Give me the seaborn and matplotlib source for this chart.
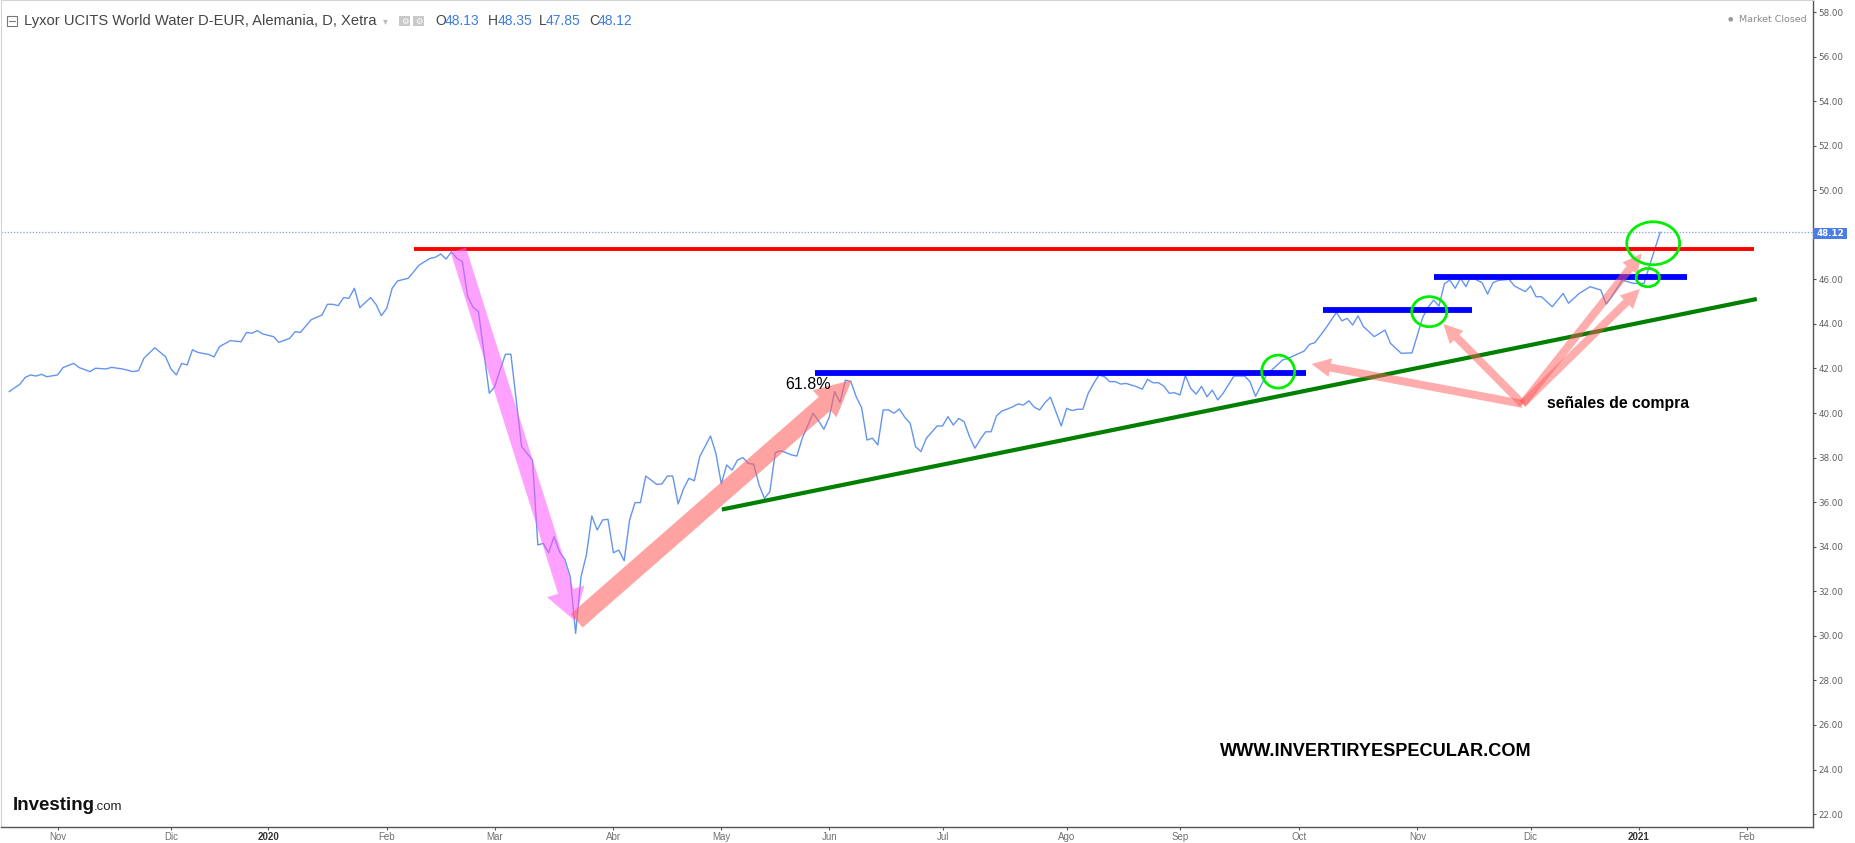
import numpy as np
import pandas as pd
import matplotlib
matplotlib.use("Agg")
import matplotlib.pyplot as plt
from matplotlib.patches import Ellipse, Rectangle, ArrowStyle
from matplotlib.lines import Line2D
import seaborn as sns

# ------------------------------------------------------------------ data
# trading-session number, counted from the first Xetra session of Nov 2019
session = [-9, -7, -6, -5, -4, -3, -2, 0, 1, 3, 4, 6, 7, 9, 10, 12, 14, 15, 16, 18,
           20, 21, 22, 23, 24, 25, 26, 28, 29, 30, 32, 34, 35, 36, 37, 38, 40, 41, 43, 44,
           45, 47, 49, 50, 51, 52, 53, 54, 55, 56, 58, 59, 60, 61, 62, 63, 65, 67, 69, 70,
           71, 72, 73, 74, 75, 76, 77, 78, 80, 81, 82, 83, 84, 86, 88, 89, 90, 91, 92, 93,
           94, 95, 96, 97, 98, 99, 100, 101, 102, 103, 104, 105, 106, 107, 108, 109, 110, 111, 112, 113,
           114, 115, 116, 117, 118, 119, 121, 122, 123, 124, 125, 126, 127, 128, 129, 130, 131, 132, 133, 134,
           135, 136, 137, 138, 139, 140, 141, 142, 143, 144, 145, 146, 147, 148, 149, 150, 151, 152, 153, 154,
           155, 156, 157, 158, 159, 160, 161, 163, 164, 165, 166, 167, 168, 169, 170, 171, 172, 173, 174, 175,
           176, 177, 178, 179, 180, 181, 182, 183, 184, 185, 186, 187, 188, 189, 190, 191, 192, 193, 194, 195,
           196, 197, 198, 200, 201, 202, 203, 204, 205, 206, 207, 208, 209, 210, 211, 212, 213, 214, 215, 216,
           218, 220, 221, 222, 224, 227, 228, 231, 232, 233, 235, 237, 238, 239, 240, 241, 242, 244, 246, 247,
           249, 251, 252, 253, 254, 255, 256, 257, 258, 259, 260, 261, 262, 263, 264, 265, 266, 267, 269, 270,
           272, 273, 274, 275, 277, 279, 280, 282, 284, 286, 287, 288, 290, 292, 294, 295, 297]
close = [40.96, 41.29, 41.60, 41.71, 41.66, 41.74, 41.63, 41.71, 42.04, 42.23, 42.04, 41.86, 42.01, 41.98, 42.05, 41.98, 41.86, 41.90, 42.46, 42.93,
         42.53, 41.98, 41.71, 42.23, 42.16, 42.84, 42.72, 42.63, 42.52, 42.98, 43.25, 43.20, 43.62, 43.58, 43.70, 43.55, 43.43, 43.17, 43.35, 43.65,
         43.62, 44.19, 44.40, 44.88, 44.88, 44.82, 45.18, 45.15, 45.60, 44.73, 45.18, 44.88, 44.37, 44.70, 45.60, 45.93, 46.05, 46.64, 46.94, 46.99,
         47.14, 46.91, 47.24, 46.94, 46.80, 45.22, 44.75, 44.55, 40.89, 41.18, 41.93, 42.64, 42.64, 38.49, 37.89, 34.08, 34.15, 33.73, 34.45, 33.78,
         33.43, 32.66, 30.11, 32.66, 33.63, 35.38, 34.75, 35.20, 35.23, 33.73, 33.85, 33.37, 35.20, 35.98, 35.98, 37.17, 36.99, 36.80, 36.82, 37.17,
         37.17, 35.92, 36.60, 37.07, 36.96, 38.04, 38.97, 38.19, 36.82, 37.67, 37.44, 37.89, 38.00, 37.74, 37.70, 36.77, 36.17, 36.47, 38.22, 38.31,
         38.22, 38.12, 38.07, 38.87, 39.42, 39.99, 39.66, 39.27, 39.81, 40.96, 40.47, 41.48, 41.41, 40.73, 40.24, 38.79, 38.87, 38.57, 40.14, 40.14,
         39.99, 40.18, 39.81, 39.54, 38.49, 38.27, 38.87, 39.42, 39.42, 39.84, 39.46, 39.76, 39.61, 38.94, 38.42, 38.82, 39.16, 39.16, 39.87, 40.09,
         40.18, 40.28, 40.41, 40.36, 40.55, 40.26, 40.14, 40.47, 40.71, 40.06, 39.42, 40.21, 40.11, 40.17, 40.17, 40.89, 41.33, 41.71, 41.63, 41.41,
         41.41, 41.30, 41.33, 41.18, 41.07, 41.51, 41.36, 41.36, 41.21, 40.89, 40.91, 40.81, 41.68, 41.10, 40.85, 41.20, 40.73, 41.03, 40.59, 40.89,
         41.66, 41.66, 41.40, 40.75, 41.70, 42.38, 42.45, 42.78, 43.08, 43.16, 43.80, 44.52, 44.14, 44.25, 43.95, 44.36, 43.88, 43.43, 43.72, 43.13,
         42.68, 42.70, 43.50, 44.30, 44.75, 45.07, 44.80, 45.80, 45.97, 45.60, 46.05, 45.67, 46.20, 45.97, 45.85, 45.34, 45.85, 45.95, 46.00, 45.70,
         45.45, 45.70, 45.22, 45.22, 44.77, 45.37, 44.93, 45.37, 45.67, 45.52, 44.89, 45.22, 45.97, 45.82, 45.82, 46.60, 48.12]

last_close = 48.12
ohlc_labels = ["O", "H", "L", "C"]
ohlc_values = ["48.13", "48.35", "47.85", "48.12"]
title = "Lyxor UCITS World Water D-EUR, Alemania, D, Xetra"

xetra_holidays = ["2019-12-24", "2019-12-25", "2019-12-26", "2019-12-31", "2020-01-01",
                  "2020-04-10", "2020-04-13", "2020-05-01", "2020-06-01",
                  "2020-12-24", "2020-12-25", "2020-12-31", "2021-01-01"]
month_names = ["Ene", "Feb", "Mar", "Abr", "May", "Jun", "Jul", "Ago", "Sep", "Oct", "Nov", "Dic"]
y_ticks = [22, 24, 26, 28, 30, 32, 34, 36, 38, 40, 42, 44, 46, 48, 50, 52, 54, 56, 58]

# drawn annotations (session, price)
red_level = 47.35
red_span = [66.1, 314.4]
blue_levels = [41.80, 44.63, 46.10]
blue_spans = [[140.4, 231.4], [234.5, 262.2], [255.1, 302.0]]
trend_sessions = [123.1, 314.9]
trend_prices = [35.67, 45.12]
circle_centers = [[226.2, 41.86], [254.2, 44.55], [294.7, 46.08], [295.7, 47.62]]
circle_sizes = [[6.1, 1.48], [6.5, 1.35], [4.3, 0.82], [9.8, 1.93]]
crash_arrow = [[74.26, 47.32], [95.89, 30.67]]
rebound_arrow = [[96.2, 30.68], [147.17, 41.48]]
signal_origin = [271.48, 40.41]
signal_tips = [[232.4, 42.20], [256.8, 44.00], [293.57, 47.16], [293.25, 45.57]]
fib_label_pos = [134.8, 41.06]
signal_label_pos = [276.0, 40.23]

# ------------------------------------------------------------------ style
sns.set_theme(style="white")
plt.rcParams["font.family"] = ["Liberation Sans", "DejaVu Sans"]

W, H = 1855, 843
fig = plt.figure(figsize=(W / 100, H / 100), dpi=100)
fig.patch.set_facecolor("white")

def fx(x):
    return x / W

def fy(y):
    return 1 - y / H

AX_L, AX_R, AX_T, AX_B = 1, 1813, 0, 827
ax = fig.add_axes([fx(AX_L), fy(AX_B), (AX_R - AX_L) / W, (AX_B - AX_T) / H])
ax.set_facecolor("white")

df = pd.DataFrame({"session": session, "close": close})
sns.lineplot(data=df, x="session", y="close", ax=ax, color="#6495ed", lw=1.0, zorder=2)

px_per_s = 5.396
s0 = 57.6
ax.set_xlim((AX_L - s0) / px_per_s, (AX_R - s0) / px_per_s)
ax.set_ylim(58 - (AX_B - 12) / 22.28, 58 + 12 / 22.28)

# last-price dotted line
ax.axhline(last_close, color="#7f9ff0", lw=0.9, ls=(0, (1, 1.5)), zorder=1)

# horizontal levels and trend line
ax.plot(red_span, [red_level, red_level], color="#ff0000", lw=2.8, solid_capstyle="butt", zorder=3)
for lvl, span in zip(blue_levels, blue_spans):
    ax.plot(span, [lvl, lvl], color="#0000ff", lw=4.2, solid_capstyle="butt", zorder=3)
ax.plot(trend_sessions, trend_prices, color="#007f00", lw=3.0, solid_capstyle="butt", zorder=3)

# arrows (sizes in pixels; mutation_scale 0.72pt = 1px)
def fat_arrow(tail, tip, color, alpha, tw, hw, hl):
    ax.annotate("", xy=tip, xytext=tail, xycoords="data", textcoords="data",
                arrowprops=dict(arrowstyle=ArrowStyle.Simple(head_length=hl, head_width=hw, tail_width=tw),
                                fc=color, ec="none", alpha=alpha, shrinkA=0, shrinkB=0,
                                mutation_scale=0.72),
                zorder=4)

fat_arrow(crash_arrow[0], crash_arrow[1], "#ff55ff", 0.55, 16, 39, 31)
fat_arrow(rebound_arrow[0], rebound_arrow[1], "#ff6464", 0.6, 18, 36, 36)
for tip in signal_tips:
    fat_arrow(signal_origin, tip, "#ff5a5a", 0.5, 8, 19, 19)

# green circles
for c, s in zip(circle_centers, circle_sizes):
    ax.add_patch(Ellipse(c, s[0], s[1], fill=False, ec="#00ee00", lw=2.0, zorder=5))

# annotation texts
ax.text(fib_label_pos[0], fib_label_pos[1], "61.8%", fontsize=11.5, color="black",
        ha="left", va="baseline", zorder=6)
ax.text(signal_label_pos[0], signal_label_pos[1], "señales de compra", fontsize=11.3,
        fontweight="bold", color="black", ha="left", va="baseline", zorder=6)
fig.text(fx(1220), fy(751), "WWW.INVERTIRYESPECULAR.COM", fontsize=13.1, fontweight="bold",
         color="black", ha="left", va="center")

# axes spines / ticks
for side in ["top", "left"]:
    ax.spines[side].set_color("#d4d4d4")
    ax.spines[side].set_linewidth(0.8)
for side in ["right", "bottom"]:
    ax.spines[side].set_color("#555555")
    ax.spines[side].set_linewidth(1.0)

ax.yaxis.tick_right()
ax.set_yticks(y_ticks)
ax.set_yticklabels([f"{v:.2f}" for v in y_ticks], fontfamily="DejaVu Sans")
ax.tick_params(axis="y", direction="out", length=2.5, width=0.8, color="#555555",
               labelsize=6.3, labelcolor="#606060", pad=1.5, right=True, left=False)

cal = pd.bdate_range("2019-10-14", "2021-03-31")
cal = cal[~cal.isin(pd.to_datetime(xetra_holidays))]
origin = cal.get_loc(pd.Timestamp("2019-11-01"))
idx = np.arange(len(cal)) - origin
months = pd.Series(cal.to_period("M"))
first = (~months.duplicated()).values
lo, hi = ax.get_xlim()
tick_pos, tick_lab = [], []
for p, d in zip(idx[first], cal[first]):
    if lo < p < hi:
        tick_pos.append(p)
        tick_lab.append(str(d.year) if d.month == 1 else month_names[d.month - 1])
ax.set_xticks(tick_pos)
ax.set_xticklabels(tick_lab)
ax.tick_params(axis="x", direction="out", length=2.5, width=0.8, color="#555555",
               labelsize=7, labelcolor="#707070", pad=1, bottom=True)
for lab in ax.get_xticklabels():
    if lab.get_text().isdigit():
        lab.set_color("#333333")
        lab.set_fontweight("bold")
ax.set_xlabel("")
ax.set_ylabel("")
ax.grid(False)

# last price badge on the axis
fig.add_artist(Rectangle((fx(1813), fy(239)), 34 / W, 11.5 / H, transform=fig.transFigure,
                         fc="#4a7de6", ec="none", zorder=10))
fig.text(fx(1830), fy(233.5), f"{last_close:.2f}", fontsize=6.3, fontfamily="DejaVu Sans",
         color="white", fontweight="bold", ha="center", va="center", zorder=11)

# header
fig.add_artist(Rectangle((fx(7), fy(26)), 10 / W, 10 / H, transform=fig.transFigure,
                         fill=False, ec="#777777", lw=0.8))
fig.add_artist(Line2D([fx(9), fx(15)], [fy(21), fy(21)], transform=fig.transFigure, color="#777777", lw=0.8))
fig.text(fx(24), fy(21), title, fontsize=10.65, color="#454545", ha="left", va="center")
fig.text(fx(383), fy(21), "▾", fontsize=7, color="#bbbbbb", ha="left", va="center", fontfamily="DejaVu Sans")
for x0 in (399, 413):
    fig.add_artist(Rectangle((fx(x0), fy(26)), 11 / W, 10 / H, transform=fig.transFigure,
                             fc="#c9c9c9", ec="none"))
    fig.text(fx(x0 + 5.5), fy(21), "⚙", fontsize=6, color="white", ha="center", va="center",
             fontfamily="DejaVu Sans")
letter_x = [435, 487.5, 539, 589]
value_x = [444.5, 497.5, 545.5, 598]
for lx, vx, lab, val in zip(letter_x, value_x, ohlc_labels, ohlc_values):
    fig.text(fx(lx), fy(21), lab, fontsize=10, color="#454545", ha="left", va="center")
    fig.text(fx(vx), fy(21), val, fontsize=10, color="#3d7ee0", ha="left", va="center")

fig.text(fx(1728), fy(19), "●", fontsize=4.5, color="#999999", ha="left", va="center", fontfamily="DejaVu Sans")
fig.text(fx(1739), fy(19), "Market Closed", fontsize=6.8, color="#8a8a8a", ha="left", va="center",
         fontfamily="DejaVu Sans")

# Investing.com logo
fig.text(fx(13), fy(810), "Investing", fontsize=13.5, fontweight="bold", color="#111111",
         ha="left", va="baseline")
fig.text(fx(94), fy(810), ".com", fontsize=9.5, color="#222222", ha="left", va="baseline")

fig.savefig("out.png", dpi=100, facecolor="white")
